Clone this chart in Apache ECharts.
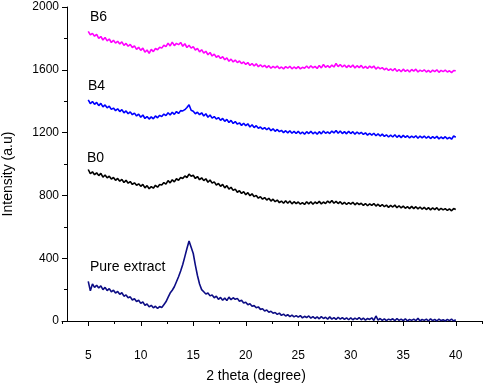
<!DOCTYPE html>
<html>
<head>
<meta charset="utf-8">
<script src="https://cdn.jsdelivr.net/npm/echarts@6/dist/echarts.min.js"></script>
<style>
html,body{margin:0;padding:0;background:#fff;}
#chart{width:484px;height:387px;}
</style>
</head>
<body>
<div id="chart"></div>
<script>
// 2 theta sampling grid (degree)
const twoTheta = [
5,5.2,5.4,5.6,5.8, 6,6.2,6.4,6.6,6.8, 7,7.2,7.4,7.6,7.8, 8,8.2,8.4,8.6,8.8, 9,9.2,9.4,9.6,9.8,
10,10.2,10.4,10.6,10.8, 11,11.2,11.4,11.6,11.8, 12,12.2,12.4,12.6,12.8, 13,13.2,13.4,13.6,13.8, 14,14.2,14.4,14.6,14.8,
15,15.2,15.4,15.6,15.8, 16,16.2,16.4,16.6,16.8, 17,17.2,17.4,17.6,17.8, 18,18.2,18.4,18.6,18.8, 19,19.2,19.4,19.6,19.8,
20,20.2,20.4,20.6,20.8, 21,21.2,21.4,21.6,21.8, 22,22.2,22.4,22.6,22.8, 23,23.2,23.4,23.6,23.8, 24,24.2,24.4,24.6,24.8,
25,25.2,25.4,25.6,25.8, 26,26.2,26.4,26.6,26.8, 27,27.2,27.4,27.6,27.8, 28,28.2,28.4,28.6,28.8, 29,29.2,29.4,29.6,29.8,
30,30.2,30.4,30.6,30.8, 31,31.2,31.4,31.6,31.8, 32,32.2,32.4,32.6,32.8, 33,33.2,33.4,33.6,33.8, 34,34.2,34.4,34.6,34.8,
35,35.2,35.4,35.6,35.8, 36,36.2,36.4,36.6,36.8, 37,37.2,37.4,37.6,37.8, 38,38.2,38.4,38.6,38.8, 39,39.2,39.4,39.6,39.8,
40];

const seriesNames = ['Pure extract', 'B0', 'B4', 'B6'];

const pureExtract = [
252,192,236,214,228, 210,224,200,214,194, 206,186,196,178,188, 170,180,158,166,148, 154,134,142,124,132,
112,122,100,108,90, 100,84,94,80,92, 86,104,122,150,178, 196,218,250,282,318, 360,410,462,510,470,
430,356,290,236,200, 186,172,178,160,166, 148,158,138,150,132, 146,130,152,136,148, 138,144,126,132,114,
120,104,110,94,98, 84,90,74,78,64, 70,56,62,50,54, 42,50,36,44,32, 40,28,38,26,34,
24,34,20,30,22, 32,18,28,16,26, 14,28,16,24,12, 26,12,22,10,24, 12,22,10,20,8,
20,8,18,10,22, 8,18,6,16,10, 20,4,32,6,16, 4,14,2,12,6, 14,2,16,4,12,
2,14,0,10,4, 12,2,18,0,10, 4,12,0,14,2, 10,0,12,2,8, 0,10,2,12,0,
8];

const b0 = [
965,938,950,932,944, 926,940,916,930,912, 922,904,914,896,908, 890,902,882,896,878, 888,870,880,864,874,
858,870,848,862,842, 856,846,864,852,870, 866,882,872,894,880, 900,886,906,896,914, 908,924,914,936,922,
928,908,920,900,912, 894,906,884,898,878, 886,866,876,858,870, 848,862,840,852,832, 840,820,830,812,824,
804,818,798,810,792, 800,782,792,776,786, 770,782,764,776,760, 770,754,764,750,766, 750,764,746,760,748,
758,744,754,742,760, 746,760,744,758,748, 762,746,758,748,764, 752,768,750,762,748, 760,744,756,742,754,
744,756,740,752,742, 750,736,748,734,746, 736,748,732,744,730, 742,728,738,724,736, 726,738,722,734,720,
732,718,728,716,730, 716,728,714,726,712, 724,710,722,708,720, 710,722,706,718,708, 716,704,714,702,716,
710];

const b4 = [
1408,1384,1398,1380,1392, 1372,1386,1364,1376,1358, 1368,1348,1356,1340,1352, 1334,1346,1326,1338,1320, 1332,1314,1324,1306,1318,
1298,1312,1290,1302,1286, 1300,1288,1306,1294,1310, 1302,1318,1308,1326,1312, 1330,1316,1334,1322,1340, 1338,1346,1360,1378,1342,
1336,1320,1330,1314,1326, 1306,1320,1298,1312,1292, 1302,1286,1296,1278,1290, 1272,1284,1264,1278,1258, 1270,1254,1262,1246,1260,
1244,1256,1236,1250,1232, 1244,1228,1236,1222,1232, 1218,1230,1212,1224,1208, 1220,1206,1214,1200,1212, 1198,1212,1196,1208,1194,
1208,1192,1204,1190,1206, 1194,1208,1192,1204,1190, 1206,1192,1210,1196,1204, 1194,1210,1198,1214,1196, 1210,1194,1206,1192,1208,
1194,1206,1190,1204,1192, 1202,1188,1198,1184,1196, 1184,1196,1180,1192,1178, 1190,1176,1186,1172,1184, 1172,1186,1170,1182,1168,
1182,1170,1180,1166,1178, 1168,1180,1164,1178,1166, 1178,1164,1176,1162,1174, 1164,1176,1160,1172,1162, 1174,1160,1170,1158,1178,
1170];

const b6 = [
1845,1822,1832,1814,1826, 1800,1812,1790,1806,1784, 1796,1774,1788,1770,1782, 1764,1778,1756,1768,1750, 1762,1742,1752,1730,1744,
1724,1738,1712,1726,1705, 1730,1716,1736,1728,1744, 1738,1756,1748,1770,1752, 1776,1754,1768,1760,1774, 1750,1766,1742,1756,1738,
1748,1726,1736,1714,1728, 1706,1718,1696,1710,1688, 1700,1680,1690,1672,1684, 1664,1676,1654,1668,1650, 1662,1646,1656,1640,1650,
1634,1646,1628,1640,1624, 1638,1620,1632,1618,1628, 1614,1626,1610,1622,1612, 1624,1608,1618,1606,1620, 1610,1622,1606,1618,1608,
1620,1606,1616,1610,1624, 1610,1626,1612,1622,1608, 1628,1612,1634,1616,1626, 1614,1630,1618,1640,1620, 1634,1618,1630,1614,1628,
1616,1630,1612,1626,1614, 1628,1610,1622,1608,1624, 1612,1624,1604,1618,1606, 1614,1600,1610,1596,1606, 1594,1608,1590,1602,1588,
1604,1590,1600,1586,1602, 1592,1604,1586,1598,1590, 1600,1586,1596,1584,1598, 1588,1600,1584,1596,1588, 1598,1586,1594,1582,1596,
1594];

const xTicks = [5, 10, 15, 20, 25, 30, 35, 40];
const yTicks = [0, 400, 800, 1200, 1600, 2000];

const colors = ['#0d0d85', '#000000', '#0000ff', '#ff00ff'];
const allValues = [pureExtract, b0, b4, b6];

const FONT = 'Arial, "Liberation Sans", sans-serif';

const chart = echarts.init(document.getElementById('chart'), null, {renderer: 'canvas'});

const series = allValues.map((vals, k) => ({
  name: seriesNames[k],
  type: 'line',
  xAxisIndex: 0,
  yAxisIndex: 0,
  showSymbol: false,
  symbol: 'none',
  lineStyle: {color: colors[k], width: 1.6},
  data: vals.map((v, i) => [twoTheta[i], v]),
  z: 2 + k
}));

const option = {
  animation: false,
  backgroundColor: '#ffffff',
  grid: [
    {left: 62, right: 2, top: 7, bottom: 66, containLabel: false, outerBoundsMode: 'none'},
    {left: 88.25, right: 28.25, top: 7, bottom: 66, containLabel: false, outerBoundsMode: 'none'}
  ],
  xAxis: [
    {
      type: 'value', gridIndex: 0, min: 2.5, max: 42.5, interval: 5, offset: 21,
      axisLine: {show: true, lineStyle: {color: '#000', width: 1}},
      axisTick: {show: true, length: 3, lineStyle: {color: '#000', width: 1}},
      axisLabel: {show: false},
      splitLine: {show: false},
      name: '2 theta (degree)', nameLocation: 'middle', nameGap: 27,
      nameTextStyle: {fontFamily: FONT, fontSize: 14, color: '#000', padding: [0, 32, 0, 0]}
    },
    {
      type: 'value', gridIndex: 1, min: xTicks[0], max: xTicks[xTicks.length - 1], interval: 5, offset: 21,
      axisLine: {show: false},
      axisTick: {show: true, length: 5, lineStyle: {color: '#000', width: 1}},
      axisLabel: {show: true, fontFamily: FONT, fontSize: 12, color: '#000', margin: 8,
        formatter: v => (xTicks.indexOf(v) >= 0 ? String(v) : '')},
      splitLine: {show: false}
    }
  ],
  yAxis: [
    {
      type: 'value', gridIndex: 0, min: yTicks[0], max: yTicks[yTicks.length - 1], interval: 400, offset: -5,
      axisLine: {show: true, lineStyle: {color: '#000', width: 1}},
      axisTick: {show: true, length: 5, lineStyle: {color: '#000', width: 1}},
      minorTick: {show: true, splitNumber: 2, length: 3, lineStyle: {color: '#000', width: 1}},
      axisLabel: {show: true, fontFamily: FONT, fontSize: 12, color: '#000', margin: 8,
        formatter: v => (yTicks.indexOf(v) >= 0 ? String(v) : '')},
      splitLine: {show: false},
      minorSplitLine: {show: false},
      name: 'Intensity (a.u)', nameLocation: 'middle', nameRotate: 90, nameGap: 52,
      nameTextStyle: {fontFamily: FONT, fontSize: 14, color: '#000', padding: [0, 20, 0, 0]}
    },
    {type: 'value', gridIndex: 1, min: 0, max: 1, show: false}
  ],
  graphic: [
    {type: 'text', left: 90, top: 10, style: {text: 'B6', font: '14px ' + FONT, fill: '#000'}},
    {type: 'text', left: 88, top: 79, style: {text: 'B4', font: '14px ' + FONT, fill: '#000'}},
    {type: 'text', left: 87, top: 151, style: {text: 'B0', font: '14px ' + FONT, fill: '#000'}},
    {type: 'text', left: 90, top: 260, style: {text: 'Pure extract', font: '14px ' + FONT, fill: '#000'}}
  ],
  series: series
};

chart.setOption(option);
</script>
</body>
</html>
